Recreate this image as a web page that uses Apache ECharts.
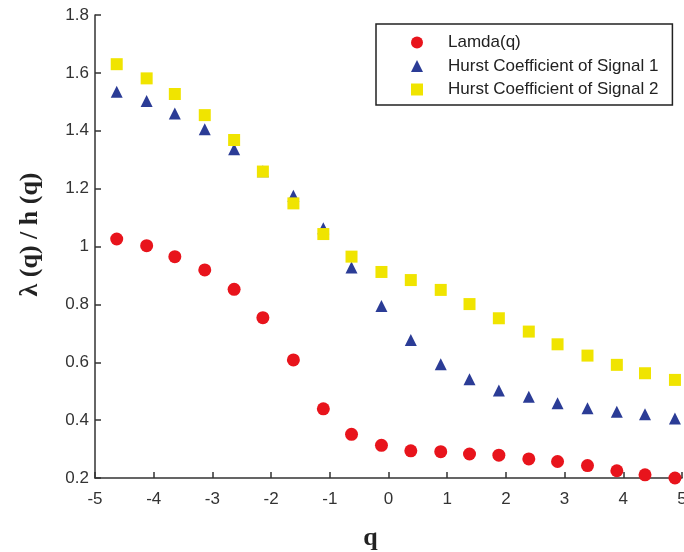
<!DOCTYPE html>
<html>
<head>
<meta charset="utf-8">
<script src="https://cdn.jsdelivr.net/npm/echarts@6/dist/echarts.min.js"></script>
<style>
html, body { margin: 0; padding: 0; background: #fff; }
#main { width: 684px; height: 552px; }
</style>
</head>
<body>
<div id="main"></div>
<script>
// q values (x positions of the markers)
var qVals = [-4.63, -4.12, -3.64, -3.13, -2.63, -2.14, -1.62, -1.11, -0.63, -0.12,
             0.38, 0.89, 1.38, 1.88, 2.39, 2.88, 3.39, 3.89, 4.37, 4.88];
var lamda = [1.026, 1.003, 0.965, 0.919, 0.852, 0.754, 0.608, 0.439, 0.351, 0.313,
             0.294, 0.291, 0.283, 0.279, 0.266, 0.257, 0.243, 0.225, 0.211, 0.2];
var hurst1 = [1.535, 1.503, 1.460, 1.405, 1.336, 1.26, 1.175, 1.063, 0.927, 0.794,
              0.677, 0.593, 0.541, 0.502, 0.481, 0.458, 0.441, 0.429, 0.420, 0.406];
var hurst2 = [1.630, 1.581, 1.527, 1.454, 1.368, 1.259, 1.149, 1.043, 0.965, 0.912,
              0.884, 0.850, 0.801, 0.752, 0.706, 0.662, 0.623, 0.591, 0.562, 0.539];
var names = ['Lamda(q)', 'Hurst Coefficient of Signal 1', 'Hurst Coefficient of Signal 2'];

function pairs(ys) {
    var res = [];
    for (var i = 0; i < qVals.length; i++) {
        res.push([qVals[i], ys[i]]);
    }
    return res;
}

var myChart = echarts.init(document.getElementById('main'));
var axisFont = { color: '#333', fontFamily: 'Liberation Sans, Arial', fontSize: 17 };

var option = {
    backgroundColor: '#fff',
    animation: false,
    grid: { left: 95, right: 2, top: 15, bottom: 74, outerBoundsMode: 'none', containLabel: false },
    legend: {
        orient: 'vertical',
        left: 376,
        top: 24,
        padding: [10, 14, 7, 35],
        itemWidth: 12,
        itemHeight: 12,
        itemGap: 6.5,
        borderColor: '#222',
        borderWidth: 1.5,
        textStyle: {
            color: '#222',
            fontFamily: 'Liberation Sans, Arial',
            fontSize: 17,
            lineHeight: 17,
            padding: [0, 0, 0, 20]
        },
        data: names
    },
    xAxis: {
        type: 'value',
        min: -5,
        max: 5,
        interval: 1,
        name: 'q',
        nameLocation: 'middle',
        nameGap: 47,
        nameTextStyle: {
            fontFamily: 'Liberation Serif, Times New Roman',
            fontWeight: 'bold',
            fontSize: 26,
            color: '#222',
            padding: [0, 36, 0, 0]
        },
        axisLine: { onZero: false, lineStyle: { color: '#333', width: 1.5 } },
        axisTick: { inside: true, length: 6, lineStyle: { color: '#333', width: 1.5 } },
        axisLabel: Object.assign({ margin: 13 }, axisFont),
        splitLine: { show: false }
    },
    yAxis: {
        type: 'value',
        min: 0.2,
        max: 1.8,
        interval: 0.2,
        name: 'λ (q) / h (q)',
        nameLocation: 'middle',
        nameGap: 52,
        nameTextStyle: {
            fontFamily: 'Liberation Serif, Times New Roman',
            fontWeight: 'bold',
            fontSize: 26,
            color: '#222',
            padding: [0, 0, 0, 24]
        },
        axisLine: { show: true, onZero: false, lineStyle: { color: '#333', width: 1.5 } },
        axisTick: { show: true, inside: true, length: 6, lineStyle: { color: '#333', width: 1.5 } },
        axisLabel: Object.assign({ margin: 6 }, axisFont),
        splitLine: { show: false }
    },
    series: [
        {
            name: names[0],
            type: 'scatter',
            symbol: 'circle',
            symbolSize: 13,
            clip: false,
            itemStyle: { color: '#e8141c', opacity: 1 },
            data: pairs(lamda)
        },
        {
            name: names[1],
            type: 'scatter',
            symbol: 'triangle',
            symbolSize: 12,
            clip: false,
            itemStyle: { color: '#2b3c96', opacity: 1 },
            data: pairs(hurst1)
        },
        {
            name: names[2],
            type: 'scatter',
            symbol: 'rect',
            symbolSize: 12,
            clip: false,
            itemStyle: { color: '#f0e400', opacity: 1 },
            data: pairs(hurst2)
        }
    ]
};

myChart.setOption(option);
window.addEventListener('resize', function () {
    myChart.resize();
});
</script>
</body>
</html>
